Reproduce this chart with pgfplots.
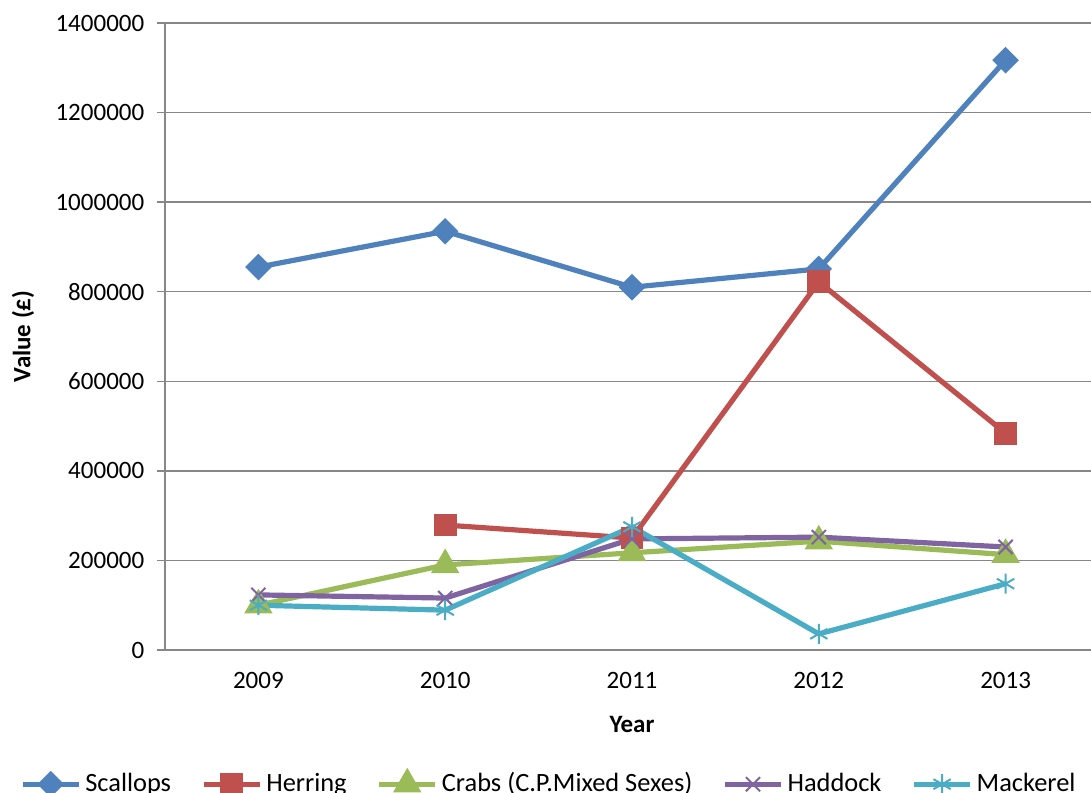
\documentclass[border=0pt]{standalone}
\usepackage{fontspec}
\setmainfont{Carlito}
\usepackage{pgfplots}
\pgfplotsset{compat=1.18}

\definecolor{cScal}{HTML}{4F81BD}
\definecolor{cHerr}{HTML}{C0504D}
\definecolor{cCrab}{HTML}{9BBB59}
\definecolor{cHadd}{HTML}{8064A2}
\definecolor{cMack}{HTML}{4BACC6}
\definecolor{gridgray}{HTML}{878787}

\begin{document}
\fontsize{12.5}{15}\selectfont
\begin{tikzpicture}
\begin{axis}[
  name=ax, at={(0,0)}, anchor=south west,
  scale only axis, width=467pt, height=313.5pt,
  xmin=-0.5, xmax=4.5, ymin=0, ymax=1400000,
  axis lines=left, axis line style={-, draw=gridgray, line width=0.75pt},
  ytick={0,200000,...,1400000},
  ymajorgrids, grid style={draw=gridgray, line width=0.75pt},
  xtick={0,...,4}, xticklabels={2009,2010,2011,2012,2013},
  xtick style={draw=none},
  minor xtick={-0.5,0.5,...,4.5},
  tick align=outside,
  major tick length=4pt, minor tick length=4pt,
  tick style={draw=gridgray, line width=0.75pt},
  scaled y ticks=false,
  yticklabel style={/pgf/number format/fixed, /pgf/number format/1000 sep={}},
  /pgf/number format/assume math mode=true,
  xticklabel style={yshift=-3pt},
  yticklabel style={xshift=-2pt},
  xlabel={\textbf{Year}}, ylabel={\textbf{Value (£)}},
  xlabel style={at={(axis description cs:0.5,-0.118)}, anchor=center},
  ylabel style={at={(axis description cs:-0.152,0.5)}, anchor=center, rotate=0},
  legend columns=5,
  legend style={at={(axis description cs:-0.162,-0.214)}, anchor=west, draw=none, fill=none,
    font=\fontsize{13.2}{16}\selectfont,
    /tikz/every even column/.append style={column sep=13pt}},
  legend image code/.code={\draw[mark repeat=2,mark phase=2,#1] plot coordinates {(0pt,0pt) (14pt,0pt) (28pt,0pt)};},
  every axis plot/.append style={line width=2.6pt},
  clip=false,
]
\addplot[cScal, mark=square*, mark size=3.4pt, mark options={rotate=45}]
  coordinates {(0,855000) (1,935000) (2,810000) (3,851000) (4,1317000)};
\addlegendentry{Scallops}
\addplot[cHerr, mark=square*, mark size=4.4pt]
  coordinates {(1,279000) (2,250000) (3,822000) (4,484000)};
\addlegendentry{Herring}
\addplot[cCrab, mark=triangle*, mark size=5.6pt]
  coordinates {(0,100000) (1,190000) (2,217000) (3,243000) (4,213000)};
\addlegendentry{Crabs (C.P.Mixed Sexes)}
\addplot[cHadd, mark=x, mark size=5pt, mark options={line width=1pt}]
  coordinates {(0,123000) (1,116000) (2,248000) (3,252000) (4,230000)};
\addlegendentry{Haddock}
\addplot[cMack, mark=asterisk, mark size=5pt, mark options={line width=1pt}]
  coordinates {(0,100000) (1,89000) (2,275000) (3,36000) (4,148000)};
\addlegendentry{Mackerel}
\end{axis}
\pgfresetboundingbox
\path[use as bounding box] ([shift={(-82.5pt,-71pt)}]ax.south west) rectangle ([shift={(463pt,325pt)}]ax.south west);
\end{tikzpicture}
\end{document}
